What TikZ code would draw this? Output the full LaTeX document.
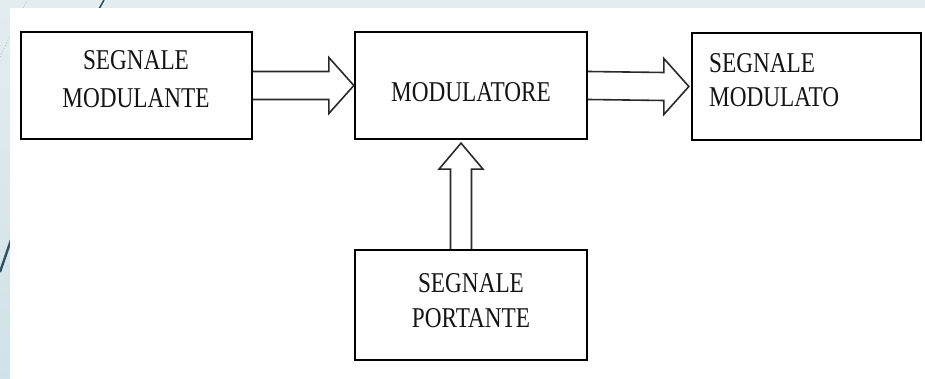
\documentclass[tikz,border=0pt]{standalone}
\usepackage{fontspec}
\setmainfont{Liberation Serif}[FakeStretch=0.81]
\usetikzlibrary{calc}

\definecolor{slidebg}{HTML}{E3EDF0}
\definecolor{slidebgdark}{HTML}{D0E2E8}
\definecolor{slideaccent}{HTML}{2E5367}
\definecolor{inkgrey}{HTML}{2A2A2A}
\definecolor{textink}{HTML}{141414}

\tikzset{
  block/.style={draw=black, line width=2.3pt, fill=white, rectangle, inner sep=0pt},
  blocktext/.style={anchor=base, inner sep=0pt, text=textink,
    font=\fontsize{28.7}{36}\selectfont},
  hollowarrow/.style={draw=inkgrey, line width=1.6pt, line join=miter},
}

\begin{document}
\begin{tikzpicture}[x=1pt, y=-1pt]
\useasboundingbox (0,0) rectangle (925,379);

% slide background with its accent strokes
\fill[slidebg] (0,0) rectangle (925,379);
\shade[top color=slidebg, bottom color=slidebgdark] (0,0) rectangle (10,379);
\draw[gray!45, line width=1pt, dotted] (0,57) -- (27,0);
\draw[slideaccent, line width=1.6pt] (99,9) -- (104,0);
\draw[slideaccent, line width=2.4pt] (0,272) -- (11,240);
\fill[white] (10,8) rectangle (925,379);

% blocks
\node[block, minimum width=231pt, minimum height=107pt] (b1) at (136.5,85.5) {};
\node[block, minimum width=232pt, minimum height=107pt] (b2) at (471,85.5) {};
\node[block, minimum width=229pt, minimum height=107pt] (b3) at (806.5,86.5) {};
\node[block, minimum width=232pt, minimum height=110pt] (b4) at (471,305) {};

% block labels
\node[blocktext] (t1a) at (136,70) {SEGNALE};
\node[blocktext] (t1b) at (136,108) {MODULANTE};
\node[blocktext] (t2) at (471,102) {MODULATORE};
\node[blocktext, anchor=base west] (t3a) at (709,73) {SEGNALE};
\node[blocktext, anchor=base west] (t3b) at (709,107) {MODULATO};
\node[blocktext] (t4a) at (471,292) {SEGNALE};
\node[blocktext] (t4b) at (471,327) {PORTANTE};

% hollow block arrows between the blocks
\draw[hollowarrow]
  ($(b1.east)+(0,-14)$) -- ($(b2.west)+(-25,-14)$) -- ($(b2.west)+(-25,-28)$)
  -- (b2.west)
  -- ($(b2.west)+(-25,28)$) -- ($(b2.west)+(-25,14)$) -- ($(b1.east)+(0,14)$);
\draw[hollowarrow]
  ($(b2.east)+(0,-14)$) -- ($(b3.west)+(-27,-14)$) -- ($(b3.west)+(-27,-28)$)
  -- ($(b3.west)+(-2,0)$)
  -- ($(b3.west)+(-27,28)$) -- ($(b3.west)+(-27,14)$) -- ($(b2.east)+(0,14)$);
\draw[hollowarrow]
  ($(b4.north)+(-20.5,0)$) -- ($(b2.south)+(-20.5,29)$) -- ($(b2.south)+(-32,29)$)
  -- ($(b2.south)+(-10,3)$)
  -- ($(b2.south)+(12,29)$) -- ($(b2.south)+(0.5,29)$) -- ($(b4.north)+(0.5,0)$);
\end{tikzpicture}
\end{document}
